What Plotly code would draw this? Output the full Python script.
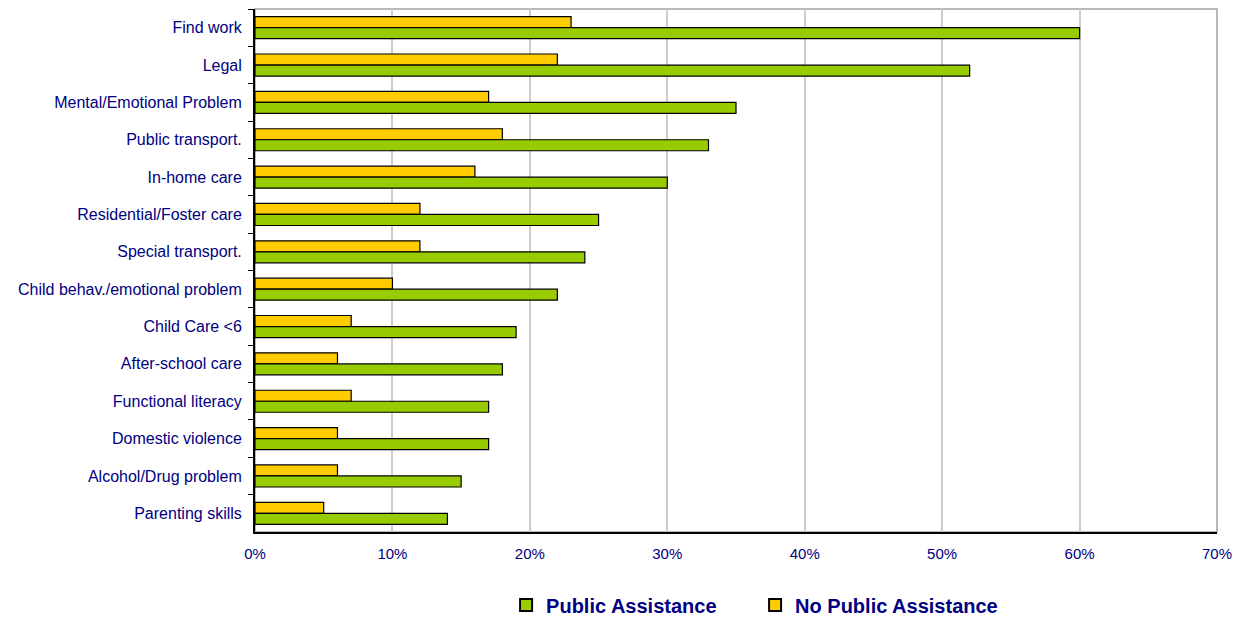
import plotly.graph_objects as go

categories = [
    "Find work", "Legal", "Mental/Emotional Problem", "Public transport.",
    "In-home care", "Residential/Foster care", "Special transport.",
    "Child behav./emotional problem", "Child Care <6", "After-school care",
    "Functional literacy", "Domestic violence", "Alcohol/Drug problem",
    "Parenting skills",
]
public_assistance = [60, 52, 35, 33, 30, 25, 24, 22, 19, 18, 17, 17, 15, 14]
no_public_assistance = [23, 22, 17, 18, 16, 12, 12, 10, 7, 6, 7, 6, 6, 5]
x_ticks = [0, 10, 20, 30, 40, 50, 60, 70]
x_tick_labels = [f"{v}%" for v in x_ticks]

NAVY = "#000080"
GREEN = "#99CC00"
YELLOW = "#FFCC00"
FONT = "Liberation Sans, Arial, sans-serif"

fig = go.Figure()
fig.add_trace(go.Bar(
    y=categories, x=no_public_assistance, name="No Public Assistance",
    orientation="h", marker=dict(color=YELLOW, line=dict(color="black", width=1.2)),
    legendrank=2,
))
fig.add_trace(go.Bar(
    y=categories, x=public_assistance, name="Public Assistance",
    orientation="h", marker=dict(color=GREEN, line=dict(color="black", width=1.2)),
    legendrank=1,
))

fig.update_layout(
    width=1243, height=617,
    margin=dict(l=255, r=26, t=9, b=85, autoexpand=False),
    paper_bgcolor="white", plot_bgcolor="white",
    barmode="group", bargap=0.41, bargroupgap=0,
    font=dict(family=FONT, color=NAVY),
    showlegend=True,
    legend=dict(
        orientation="h", x=0.261, xanchor="left", y=-0.1396, yanchor="middle",
        font=dict(size=20, color=NAVY, family=FONT, weight="bold"),
        entrywidth=204, entrywidthmode="pixels",
        itemsizing="constant",
    ),
    shapes=[dict(
        type="rect", xref="paper", yref="paper", x0=0, x1=1, y0=0, y1=1,
        line=dict(color="#a0a0a0", width=1.5), layer="below",
    )],
)

fig.update_xaxes(
    range=[0, 70], tickvals=x_ticks, ticktext=x_tick_labels,
    showgrid=True, gridcolor="#cccccc", gridwidth=1.5,
    showline=True, linecolor="black", linewidth=2,
    ticks="", ticklabelstandoff=7,
    tickfont=dict(size=15, color=NAVY), zeroline=False,
    fixedrange=True,
)
fig.update_yaxes(
    autorange="reversed", type="category",
    showline=True, linecolor="black", linewidth=2,
    ticks="outside", ticklen=5, tickcolor="black", tickson="boundaries",
    ticklabelstandoff=8,
    tickfont=dict(size=16, color=NAVY), showgrid=False,
    fixedrange=True,
)

fig.write_html("out.html")
